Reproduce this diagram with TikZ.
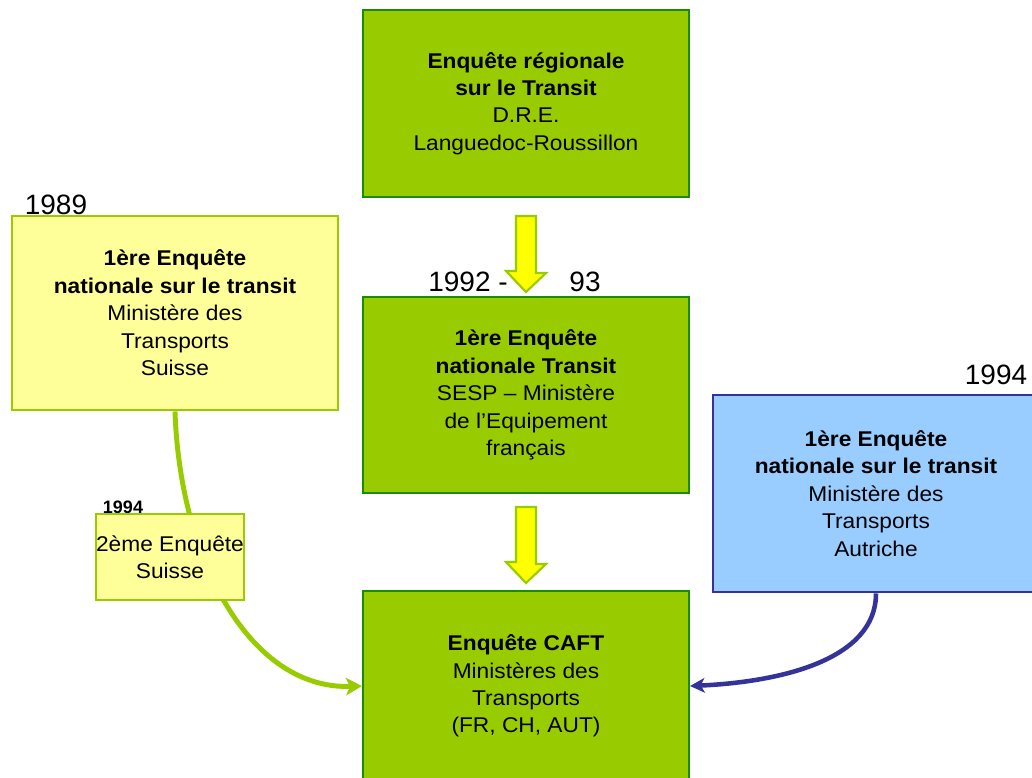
\documentclass[tikz,border=0pt]{standalone}
\usepackage{fontspec}
\setmainfont{Liberation Sans}
\newfontfamily\boxfont{Liberation Sans}[FakeStretch=1.065]
\usetikzlibrary{arrows.meta,calc}
\definecolor{boxgreen}{HTML}{99CC00}
\definecolor{darkgreen}{HTML}{1A8C00}
\definecolor{lightyellow}{HTML}{FFFF99}
\definecolor{lightblue}{HTML}{99CCFF}
\definecolor{navy}{HTML}{333399}
\definecolor{arrowyellow}{HTML}{FFFF00}
\begin{document}
\begin{tikzpicture}[x=0.75pt,y=-0.75pt,
  box/.style={draw, rectangle, inner sep=0pt, align=center,
    font=\boxfont\fontsize{16}{20.6}\selectfont, minimum width=244.5pt},
  greenbox/.style={box, fill=boxgreen, draw=darkgreen, line width=1.5pt},
  yellowbox/.style={box, fill=lightyellow, draw=boxgreen, line width=2.2pt},
  bluebox/.style={box, fill=lightblue, draw=navy, line width=2.2pt},
  smallbox/.style={draw=boxgreen, fill=lightyellow, line width=1.1pt, inner sep=0pt,
    align=center, font=\boxfont\fontsize{16}{20}\selectfont,
    minimum width=109.5pt, minimum height=64.5pt},
  year/.style={inner sep=0pt, font=\fontsize{21}{25}\selectfont},
  blockarrow/.style={fill=arrowyellow, draw=boxgreen, line width=1.6pt, line join=miter},
  greenconn/.style={draw=boxgreen, line width=3.7pt,
    -{Stealth[length=12pt,width=13pt,inset=3pt]}},
  blueconn/.style={draw=navy, line width=3.4pt,
    -{Stealth[length=11pt,width=11pt,inset=3pt]}}
]
\useasboundingbox (0,0) rectangle (1032,778);
\fill[white] (0,0) rectangle (1032,778);

% boxes
\node[greenbox, minimum height=140.25pt] (top) at (526,103.5)
  {\textbf{Enquête régionale}\\\textbf{sur le Transit}\\D.R.E.\\Languedoc-Roussillon};
\node[greenbox, minimum height=147pt] (mid) at (526,395)
  {\textbf{1ère Enquête}\\\textbf{nationale Transit}\\SESP – Ministère\\de l’Equipement\\français};
\node[greenbox, minimum height=142.5pt] (bot) at (526,686)
  {\textbf{Enquête CAFT}\\Ministères des\\Transports\\(FR, CH, AUT)};
\node[yellowbox, minimum height=145.5pt] (left) at (175,313)
  {\textbf{1ère Enquête}\\\textbf{nationale sur le transit}\\Ministère des\\Transports\\Suisse};
\node[bluebox, minimum height=147.75pt] (blue) at (876,493.5)
  {\textbf{1ère Enquête}\\\textbf{nationale sur le transit}\\Ministère des\\Transports\\Autriche};

% year labels
\node[year] (y1989) at (56,205) {1989};
\node[year] (y1992) at (468,282) {1992 -};
\node[year] (y93) at (585,282) {93};
\node[year] (y1994) at (996,375) {1994};
\node[inner sep=0pt, font=\fontsize{13.5}{15}\selectfont\bfseries] (y1994s) at (123,507) {1994};

% block arrows
\draw[blockarrow] ($(top.south)+(-10,18)$) -- ++(20,0) -- ++(0,57) -- ++(10,0)
  -- ($(mid.north)+(0,-4)$) -- ++(-20,-21) -- ++(10,0) -- cycle;
\draw[blockarrow] ($(mid.south)+(-10,13)$) -- ++(20,0) -- ++(0,57) -- ++(10,0)
  -- ($(bot.north)+(0,-7)$) -- ++(-20,-21) -- ++(10,0) -- cycle;

% curved connectors
\draw[greenconn] (left.south) .. controls (180,560) and (250,690) .. (bot.west);
\draw[blueconn] (blue.south) .. controls (876,660) and (780,682) .. (bot.east);

% small box on top of the green curve
\node[smallbox] (small) at (170,557) {2ème Enquête\\Suisse};
\end{tikzpicture}
\end{document}
